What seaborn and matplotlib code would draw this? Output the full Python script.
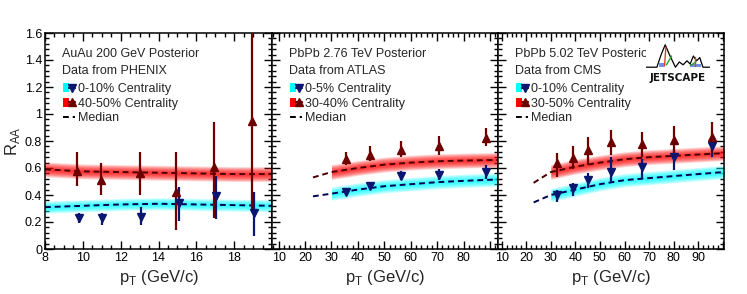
import numpy as np
import matplotlib
matplotlib.use("Agg")
import matplotlib.pyplot as plt
import seaborn as sns
from matplotlib.patches import Patch
from matplotlib.lines import Line2D
from matplotlib.legend_handler import HandlerTuple
from matplotlib.ticker import MultipleLocator, FixedLocator, FixedFormatter

# ---- panel 1: AuAu 200 GeV, PHENIX ----
x1_med = [8, 10, 12, 14, 16, 18, 20]
red1_med = [0.59, 0.575, 0.57, 0.565, 0.56, 0.555, 0.555]
blue1_med = [0.31, 0.32, 0.33, 0.335, 0.33, 0.325, 0.32]
p1_blue_x = [9.8, 11.0, 13.05, 15.1, 17.05, 19.05]
p1_blue_y = [0.23, 0.23, 0.24, 0.34, 0.39, 0.27]
p1_blue_lo = [0.19, 0.18, 0.18, 0.21, 0.22, 0.10]
p1_blue_hi = [0.27, 0.27, 0.31, 0.46, 0.54, 0.42]
p1_red_x = [9.7, 10.95, 13.0, 14.95, 16.95, 18.95]
p1_red_y = [0.58, 0.51, 0.56, 0.42, 0.61, 0.95]
p1_red_lo = [0.47, 0.40, 0.40, 0.14, 0.23, 0.28]
p1_red_hi = [0.72, 0.64, 0.72, 0.72, 0.94, 1.70]

# ---- panel 2: PbPb 2.76 TeV, ATLAS ----
x2_med = [23, 30, 40, 50, 60, 70, 80, 93]
red2_med = [0.53, 0.57, 0.60, 0.625, 0.64, 0.65, 0.655, 0.66]
blue2_med = [0.39, 0.41, 0.44, 0.465, 0.48, 0.495, 0.505, 0.515]
p2_x = [35.5, 44.7, 56.2, 70.8, 88.5]
p2_red_y = [0.67, 0.70, 0.73, 0.76, 0.82]
p2_red_lo = [0.62, 0.65, 0.68, 0.70, 0.76]
p2_red_hi = [0.72, 0.76, 0.80, 0.84, 0.90]
p2_blue_y = [0.42, 0.47, 0.54, 0.55, 0.57]
p2_blue_lo = [0.40, 0.44, 0.51, 0.51, 0.52]
p2_blue_hi = [0.44, 0.50, 0.58, 0.59, 0.62]

# ---- panel 3: PbPb 5.02 TeV, CMS ----
x3_med = [23, 30, 40, 50, 60, 70, 80, 90, 100.5]
red3_med = [0.49, 0.57, 0.61, 0.64, 0.665, 0.68, 0.69, 0.70, 0.71]
blue3_med = [0.345, 0.40, 0.44, 0.48, 0.51, 0.525, 0.54, 0.555, 0.57]
p3_x = [32.4, 39.0, 45.0, 54.7, 67.3, 80.3, 95.8]
p3_red_y = [0.635, 0.675, 0.73, 0.795, 0.775, 0.81, 0.83]
p3_red_lo = [0.535, 0.59, 0.62, 0.70, 0.68, 0.70, 0.71]
p3_red_hi = [0.71, 0.76, 0.83, 0.88, 0.87, 0.91, 0.94]
p3_blue_y = [0.40, 0.45, 0.51, 0.57, 0.61, 0.68, 0.76]
p3_blue_lo = [0.35, 0.39, 0.45, 0.50, 0.52, 0.585, 0.68]
p3_blue_hi = [0.44, 0.49, 0.56, 0.68, 0.67, 0.74, 0.83]

titles = ["AuAu 200 GeV Posterior", "PbPb 2.76 TeV Posterior", "PbPb 5.02 TeV Posterior"]
sources = ["Data from PHENIX", "Data from ATLAS", "Data from CMS"]
blue_labels = ["0-10% Centrality", "0-5% Centrality", "0-10% Centrality"]
red_labels = ["40-50% Centrality", "30-40% Centrality", "30-50% Centrality"]

# JETSCAPE logo outline
logo_x = [0.0, 0.17, 0.24, 0.30, 0.37, 0.46, 0.52, 0.58, 0.64, 0.69, 0.74, 0.79, 0.84, 0.89, 1.0]
logo_y = [0.42, 0.42, 0.75, 0.98, 0.72, 0.42, 0.55, 0.48, 0.58, 0.50, 0.70, 0.58, 0.66, 0.42, 0.42]

sns.set_theme(style="ticks")
plt.rcParams["font.family"] = ["Liberation Sans", "DejaVu Sans"]
plt.rcParams["mathtext.fontset"] = "custom"
plt.rcParams["mathtext.rm"] = "Liberation Sans"

RED = "#ff0000"
CYAN = "#00ffff"
NAVY = "#0a1670"
MAROON = "#6e0000"
RED_MED = "#4a0000"
BLUE_MED = "#000055"
DASH = (0, (3, 2))


def band(ax, x, med, hw, color):
    x = np.array(x)
    med = np.array(med)
    for f in np.linspace(1.0, 0.15, 8):
        ax.fill_between(x, med - hw * f, med + hw * f, color=color,
                        alpha=0.17, lw=0, zorder=1)


def points(ax, x, y, lo, hi, marker, color):
    y = np.array(y)
    err = [y - np.array(lo), np.array(hi) - y]
    ax.errorbar(x, y, yerr=err, fmt=marker, color=color, ms=6,
                elinewidth=1.6, capsize=0, zorder=4)


fig = plt.figure(figsize=(7.47, 2.94), dpi=100)
W, H = 747.0, 294.0
ax1 = fig.add_axes([45 / W, 45 / H, 227 / W, 216 / H])
ax2 = fig.add_axes([272 / W, 45 / H, 226 / W, 216 / H])
ax3 = fig.add_axes([498 / W, 45 / H, 226 / W, 216 / H])
axes = [ax1, ax2, ax3]

# panel 1
band(ax1, x1_med, red1_med, 0.055, RED)
band(ax1, x1_med, blue1_med, 0.045, CYAN)
sns.lineplot(x=x1_med, y=red1_med, ax=ax1, color=RED_MED, lw=1.4, linestyle=DASH, zorder=2)
sns.lineplot(x=x1_med, y=blue1_med, ax=ax1, color=BLUE_MED, lw=1.4, linestyle=DASH, zorder=2)
points(ax1, p1_blue_x, p1_blue_y, p1_blue_lo, p1_blue_hi, "v", NAVY)
points(ax1, p1_red_x, p1_red_y, p1_red_lo, p1_red_hi, "^", MAROON)

# panel 2
band(ax2, x2_med[1:], red2_med[1:], 0.055, RED)
band(ax2, x2_med[1:], blue2_med[1:], 0.05, CYAN)
sns.lineplot(x=x2_med, y=red2_med, ax=ax2, color=RED_MED, lw=1.4, linestyle=DASH, zorder=2)
sns.lineplot(x=x2_med, y=blue2_med, ax=ax2, color=BLUE_MED, lw=1.4, linestyle=DASH, zorder=2)
points(ax2, p2_x, p2_blue_y, p2_blue_lo, p2_blue_hi, "v", NAVY)
points(ax2, p2_x, p2_red_y, p2_red_lo, p2_red_hi, "^", MAROON)

# panel 3
band(ax3, x3_med[1:], red3_med[1:], 0.055, RED)
band(ax3, x3_med[1:], blue3_med[1:], 0.05, CYAN)
sns.lineplot(x=x3_med, y=red3_med, ax=ax3, color=RED_MED, lw=1.4, linestyle=DASH, zorder=2)
sns.lineplot(x=x3_med, y=blue3_med, ax=ax3, color=BLUE_MED, lw=1.4, linestyle=DASH, zorder=2)
points(ax3, p3_x, p3_blue_y, p3_blue_lo, p3_blue_hi, "v", NAVY)
points(ax3, p3_x, p3_red_y, p3_red_lo, p3_red_hi, "^", MAROON)

xlims = [(8, 20), (7.5, 93), (8.5, 100.5)]
xmajor = [[8, 10, 12, 14, 16, 18, 20], [10, 20, 30, 40, 50, 60, 70, 80, 90],
          [10, 20, 30, 40, 50, 60, 70, 80, 90, 100]]
xlabels = [["8", "10", "12", "14", "16", "18", ""],
           ["10", "20", "30", "40", "50", "60", "70", "80", ""],
           ["10", "20", "30", "40", "50", "60", "70", "80", "90", ""]]
xminor = [0.5, 2, 2]
yvals = [0, 0.2, 0.4, 0.6, 0.8, 1.0, 1.2, 1.4, 1.6]

for i, ax in enumerate(axes):
    ax.set_xlim(*xlims[i])
    ax.set_ylim(0, 1.6)
    ax.set_facecolor("white")
    ax.xaxis.set_major_locator(FixedLocator(xmajor[i]))
    ax.xaxis.set_major_formatter(FixedFormatter(xlabels[i]))
    ax.xaxis.set_minor_locator(MultipleLocator(xminor[i]))
    ax.yaxis.set_major_locator(FixedLocator(yvals))
    ax.yaxis.set_major_formatter(FixedFormatter(["%g" % v for v in yvals]))
    ax.yaxis.set_minor_locator(MultipleLocator(0.04))
    ax.tick_params(which="both", direction="in", top=True, right=True,
                   labelsize=9, colors="black", width=1.0, pad=2)
    ax.tick_params(which="major", length=6)
    ax.tick_params(which="minor", length=3)
    if i > 0:
        ax.tick_params(labelleft=False)
    for s in ax.spines.values():
        s.set_linewidth(1.1)
        s.set_color("black")
    ax.set_xlabel(r"p$_\mathregular{T}$ (GeV/c)", fontsize=12, labelpad=3)
    ax.set_ylabel("")

    ax.text(0.075, 0.903, titles[i], transform=ax.transAxes, fontsize=9,
            va="center", ha="left", zorder=5)
    ax.text(0.075, 0.824, sources[i], transform=ax.transAxes, fontsize=9,
            va="center", ha="left", zorder=5)

    handles = [
        (Patch(facecolor=CYAN, edgecolor="none"),
         Line2D([], [], color=NAVY, marker="v", ms=6, lw=1.6)),
        (Patch(facecolor=RED, edgecolor="none"),
         Line2D([], [], color=MAROON, marker="^", ms=6, lw=1.6)),
        Line2D([], [], color="black", lw=1.4, linestyle=DASH),
    ]
    leg = ax.legend(handles, [blue_labels[i], red_labels[i], "Median"],
                    handler_map={tuple: HandlerTuple(ndivide=None, pad=0)},
                    loc="upper left", bbox_to_anchor=(0.078, 0.768),
                    frameon=False, fontsize=9, borderpad=0, borderaxespad=0,
                    handlelength=1.0, handletextpad=0.2, labelspacing=0.2)
    leg.set_zorder(6)

ax1.set_ylabel(r"R$_\mathregular{AA}$", fontsize=12, labelpad=2)

# JETSCAPE logo (covers the end of the panel-3 title like the original)
lg = fig.add_axes([646 / W, (294 - 84) / H, 64 / W, 40 / H])
lg.set_facecolor("white")
lg.set_xlim(0, 1)
lg.set_ylim(0, 1)
lg.set_xticks([])
lg.set_yticks([])
for s in lg.spines.values():
    s.set_visible(False)
lg.fill_between([0.68, 0.86], 0.42, 0.50, color="#6f8fe8", lw=0)
lg.fill_between([0.20, 0.28], 0.42, 0.52, color="#6f8fe8", lw=0)
lg.plot(logo_x, logo_y, color="black", lw=0.9)
lg.plot([0.29, 0.31], [0.45, 0.92], color="#e23c2c", lw=1.0)
lg.plot([0.32, 0.40], [0.48, 0.70], color="#2aa02a", lw=1.0)
lg.plot([0.76, 0.76], [0.45, 0.68], color="#e23c2c", lw=1.0)
lg.plot([0.70, 0.78], [0.46, 0.56], color="#2aa02a", lw=1.0)
lg.text(0.5, 0.14, "JETSCAPE", ha="center", va="center", fontsize=7.5,
        fontweight="heavy", family="DejaVu Sans", color="#111111")

fig.savefig("out.png", dpi=100)
